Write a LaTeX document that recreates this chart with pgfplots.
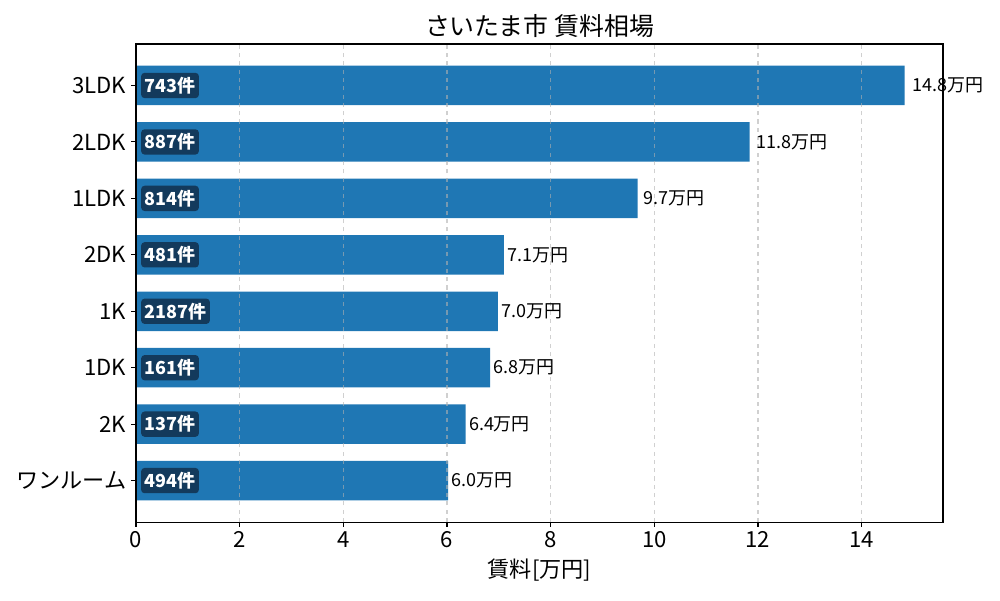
\documentclass[border=0pt]{standalone}
\usepackage{fontspec}
\setmainfont{Noto Sans CJK JP}
\usepackage{pgfplots}
\pgfplotsset{compat=1.18}
\usepackage{pgfplotstable}
\definecolor{barblue}{HTML}{1F77B4}
\definecolor{boxnavy}{HTML}{133A5C}
\definecolor{gridgray}{HTML}{B0B0B0}
\pgfplotstableread{
y val zero lx vlabel clabel
0 6.02 0 6.08 6.0万円 494件
1 6.36 0 6.42 6.4万円 137件
2 6.83 0 6.90 6.8万円 161件
3 6.98 0 7.05 7.0万円 2187件
4 7.10 0 7.17 7.1万円 481件
5 9.68 0 9.78 9.7万円 814件
6 11.84 0 11.96 11.8万円 887件
7 14.83 0 14.98 14.8万円 743件
}\datatable
\begin{document}
\begin{tikzpicture}
\path[use as bounding box] (-98.29pt,-56.37pt) rectangle (624.4pt,377.3pt);
\begin{axis}[
  at={(0,0)}, anchor=south west,
  scale only axis, width=583.2pt, height=345.5pt,
  xmin=0, xmax=15.57, ymin=-0.735, ymax=7.735,
  xtick={0,2,...,14}, ytick={0,...,7},
  yticklabels={ワンルーム,2K,1DK,1K,2DK,1LDK,2LDK,3LDK},
  xtick pos=lower, ytick pos=left,
  tick align=outside, major tick length=3.5pt,
  tick style={black, line width=0.8pt},
  axis line style={line width=0.8pt},
  ticklabel style={font=\fontsize{16}{19}\selectfont},
  /pgf/number format/assume math mode=true,
  xmajorgrids, major grid style={gridgray, opacity=0.6, dashed, line width=0.8pt},
  axis on top,
  title={さいたま市 賃料相場},
  title style={font=\fontsize{18}{22}\selectfont, yshift=-5pt},
  xlabel={賃料[万円]},
  xlabel style={font=\fontsize{16}{19}\selectfont, yshift=-1pt},
]
\addplot[xbar, bar width=0.7, fill=barblue, draw=none]
  table[x=val, y=y] {\datatable};
\addplot[only marks, mark=none,
  point meta=explicit symbolic,
  nodes near coords,
  nodes near coords style={anchor=west, font=\fontsize{13}{15}\selectfont, text=black, inner xsep=0pt}]
  table[x=lx, y=y, meta=vlabel] {\datatable};
\addplot[only marks, mark=none,
  point meta=explicit symbolic,
  nodes near coords,
  nodes near coords style={anchor=west, font=\bfseries\fontsize{13}{15}\selectfont, text=white,
    fill=boxnavy, rounded corners=2.5pt, inner xsep=2.5pt, inner ysep=3pt, xshift=3.5pt, yshift=0pt}]
  table[x=zero, y=y, meta=clabel] {\datatable};
\end{axis}
\end{tikzpicture}
\end{document}
